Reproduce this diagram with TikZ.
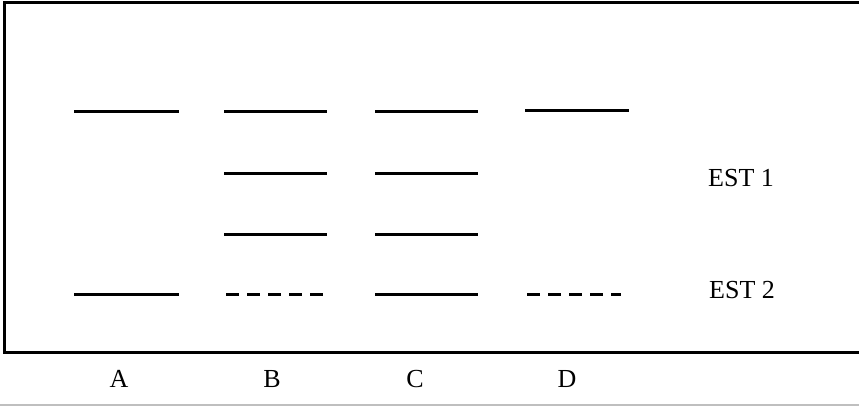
\documentclass[tikz,border=0pt]{standalone}
\usepackage{fontspec}
\setmainfont{Liberation Serif}
\tikzset{
  band/.style={line width=3pt},
  dband/.style={line width=3pt, dash pattern=on 13pt off 8pt},
  frame/.style={line width=3pt},
  lbl/.style={font=\fontsize{26}{30}\selectfont, inner sep=0pt}
}
\begin{document}
\begin{tikzpicture}[x=1pt,y=-1pt]
\useasboundingbox (0,0) rectangle (859,406);
% frame
\coordinate (tl) at (4,3);
\coordinate (tr) at (859,3);
\coordinate (bl) at (4,352);
\coordinate (br) at (859,352);
\draw[frame] (tr) -- (tl) -- (bl) -- (br);
\draw[gray!50, line width=1.2pt] (0,405) -- (859,405);
% row 1
\draw[band] (74,112) -- (179,112);
\draw[band] (224,112) -- (327,112);
\draw[band] (375,112) -- (478,112);
\draw[band] (525,111) -- (629,111);
% row 2
\draw[band] (224,174) -- (327,174);
\draw[band] (375,174) -- (478,174);
% row 3
\draw[band] (224,234) -- (327,234);
\draw[band] (375,234) -- (478,234);
% row 4
\draw[band] (74,294) -- (179,294);
\draw[dband] (226,294) -- (325,294);
\draw[band] (375,294) -- (478,294);
\draw[dband] (527,294) -- (621,294);
% labels
\node[lbl, anchor=base west] (est1) at (708,186) {EST 1};
\node[lbl, anchor=base west] (est2) at (709,298) {EST 2};
\node[lbl, anchor=base] (la) at (119,387) {A};
\node[lbl, anchor=base] (lb) at (272,387) {B};
\node[lbl, anchor=base] (lc) at (415,387) {C};
\node[lbl, anchor=base] (ld) at (567,387) {D};
\end{tikzpicture}
\end{document}
